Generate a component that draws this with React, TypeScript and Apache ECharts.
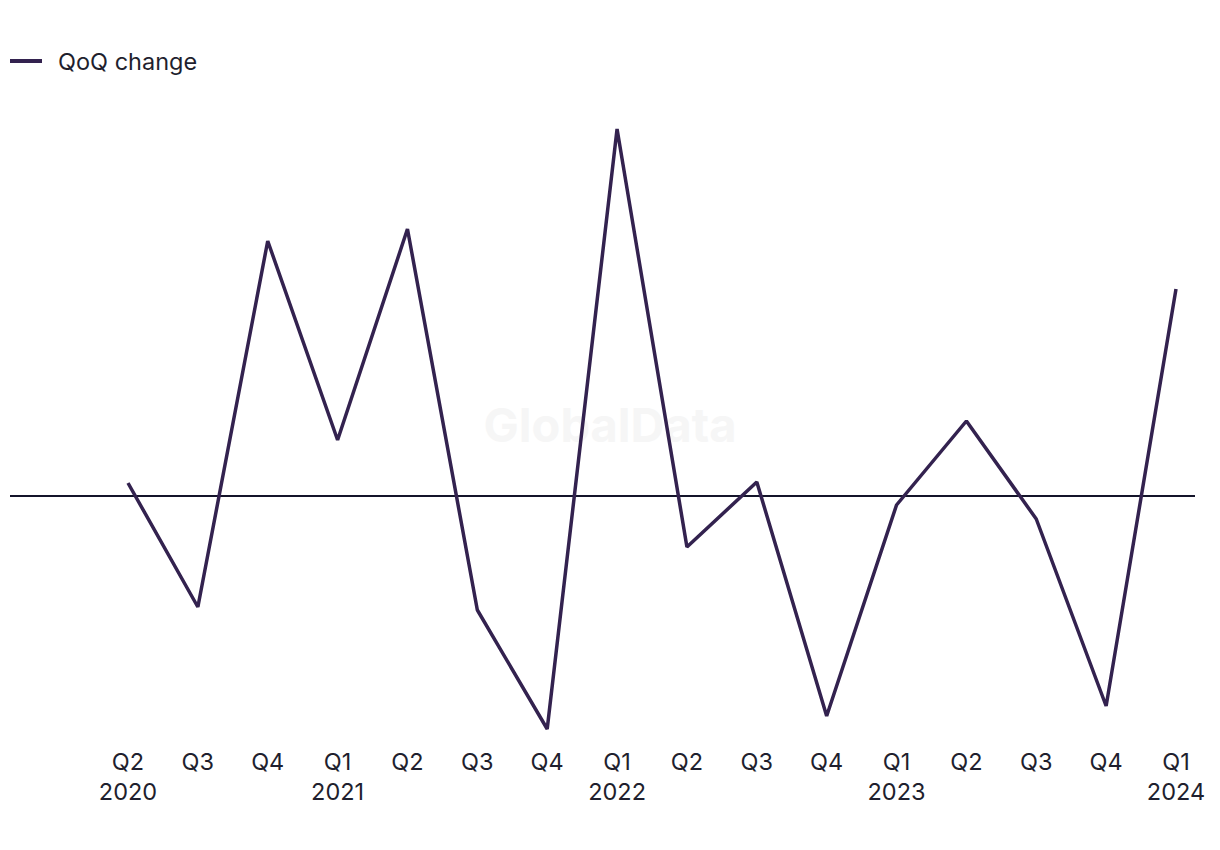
import React, { useEffect, useRef } from "react";
import * as echarts from "echarts";

const quarters = ["Q2", "Q3", "Q4", "Q1", "Q2", "Q3", "Q4", "Q1", "Q2", "Q3", "Q4", "Q1", "Q2", "Q3", "Q4", "Q1"];
const years = ["2020", "", "", "2021", "", "", "", "2022", "", "", "", "2023", "", "", "", "2024"];
const qoqChange = [1.3, -11.1, 25.5, 5.6, 26.7, -11.4, -23.3, 36.7, -5.1, 1.4, -22.0, -0.9, 7.5, -2.3, -21.0, 20.7];
const categories = quarters.map((q, i) => (years[i] ? `${q}\n${years[i]}` : q));

const FONT = "Inter, 'Liberation Sans', sans-serif";

export default function App() {
  const ref = useRef<HTMLDivElement>(null);
  useEffect(() => {
    if (!ref.current) return;
    const chart = echarts.init(ref.current, undefined, { renderer: "svg" });
    chart.setOption({
      animation: false,
      backgroundColor: "#ffffff",
      legend: {
        left: -3,
        top: 36,
        icon: "rect",
        itemWidth: 32,
        itemHeight: 4,
        textStyle: { fontFamily: FONT, fontSize: 23.5, color: "#1f1f2e", padding: [0, 0, 0, 11] },
        data: ["QoQ change"],
      },
      grid: { left: 120, right: 36, top: 121, bottom: 113, containLabel: false },
      xAxis: {
        type: "category",
        data: categories,
        boundaryGap: false,
        axisLine: { show: false },
        axisTick: { show: false },
        splitLine: { show: false },
        axisLabel: {
          interval: 0,
          margin: 17,
          fontFamily: FONT,
          fontSize: 23.5,
          lineHeight: 30,
          color: "#1f1f2e",
        },
      },
      yAxis: {
        type: "value",
        min: -23.3,
        max: 36.7,
        show: false,
        splitLine: { show: false },
      },
      series: [
        {
          name: "QoQ change",
          type: "line",
          data: qoqChange,
          symbol: "none",
          lineStyle: { color: "#33224f", width: 3.5 },
          itemStyle: { color: "#33224f" },
          z: 5,
        },
      ],
    });
    const y0 = chart.convertToPixel({ yAxisIndex: 0 }, 0) as number;
    chart.setOption({
      graphic: [
        {
          type: "text",
          left: "center",
          top: 393,
          z: -1,
          style: {
            text: "GlobalData",
            fontFamily: FONT,
            fontSize: 47,
            fontWeight: "bold",
            fill: "#f6f6f6",
          },
        },
        {
          type: "line",
          z: 1,
          shape: { x1: 2, y1: y0, x2: 1187, y2: y0 },
          style: { stroke: "#14142a", lineWidth: 1.8 },
        },
      ],
    });
    return () => chart.dispose();
  }, []);
  return <div ref={ref} style={{ width: 1204, height: 834 }} />;
}
